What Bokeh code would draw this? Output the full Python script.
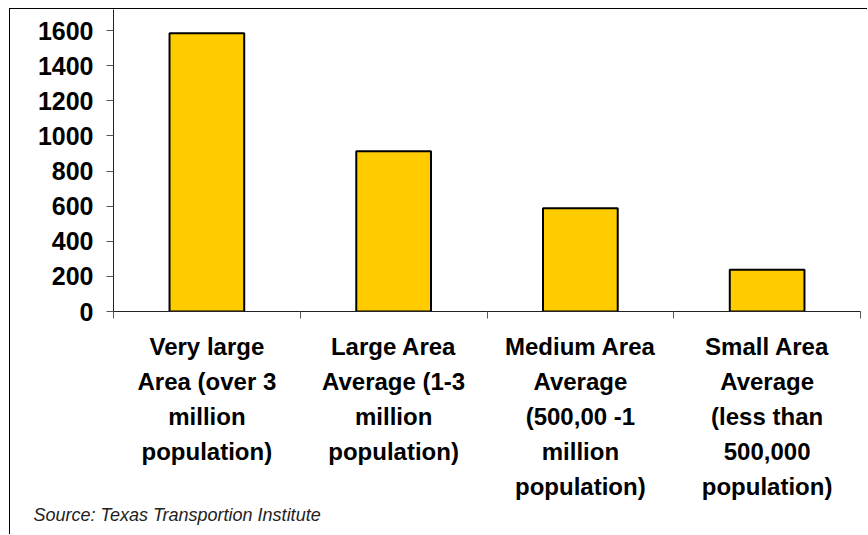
from bokeh.plotting import figure
from bokeh.models import Range1d, FixedTicker, Title, ColumnDataSource
from bokeh.embed import file_html
from bokeh.resources import INLINE

categories = [
    "Very large\nArea (over 3\nmillion\npopulation)",
    "Large Area\nAverage (1-3\nmillion\npopulation)",
    "Medium Area\nAverage\n(500,00 -1\nmillion\npopulation)",
    "Small Area\nAverage\n(less than\n500,000\npopulation)",
]
values = [1585, 912, 588, 238]
y_ticks = [0, 200, 400, 600, 800, 1000, 1200, 1400, 1600]
source_note = "Source: Texas Transportion Institute"

n = len(categories)
centers = [i + 0.5 for i in range(n)]
src = ColumnDataSource(dict(x=centers, top=values))

p = figure(width=858, height=526, output_backend="svg", toolbar_location=None,
           x_range=Range1d(0, n), y_range=Range1d(0, 1720),
           min_border_left=103, min_border_right=8, min_border_top=0, min_border_bottom=224)
p.styles = {"margin-left": "9px", "margin-top": "8px",
            "border-left": "1px solid black", "border-top": "1px solid black"}
p.outline_line_color = None
p.xgrid.visible = False
p.ygrid.visible = False
p.background_fill_color = "white"
p.border_fill_color = "white"

p.vbar(x="x", top="top", width=0.4, bottom=0, source=src,
       fill_color="#FFCC00", line_color="black", line_width=2)

font = "Liberation Sans"
# y axis
ya = p.yaxis[0]
ya.ticker = FixedTicker(ticks=y_ticks, minor_ticks=[])
ya.axis_line_color = "#222222"
ya.major_tick_line_color = "#555555"
ya.major_tick_out = 7
ya.major_tick_in = 0
ya.minor_tick_out = 0
ya.major_label_standoff = 13
ya.major_label_text_font = font
ya.major_label_text_font_style = "bold"
ya.major_label_text_font_size = "25px"
ya.major_label_text_color = "black"

# x axis
xa = p.xaxis[0]
xa.ticker = FixedTicker(ticks=centers, minor_ticks=list(range(n + 1)))
xa.major_label_overrides = {c: lab for c, lab in zip(centers, categories)}
xa.axis_line_color = "#222222"
xa.major_tick_out = 0
xa.major_tick_in = 0
xa.minor_tick_out = 7
xa.minor_tick_in = 0
xa.minor_tick_line_color = "#555555"
xa.major_label_standoff = 14
xa.major_label_text_font = font
xa.major_label_text_font_style = "bold"
xa.major_label_text_font_size = "24px"
xa.major_label_text_line_height = 1.3
xa.major_label_text_color = "black"

# source note
p.add_layout(Title(text=source_note, text_font=font, text_font_style="italic",
                   text_font_size="18px", text_color="#222222", align="left",
                   offset=-80, standoff=0), "below")

open("out.html", "w").write(file_html(p, INLINE))
